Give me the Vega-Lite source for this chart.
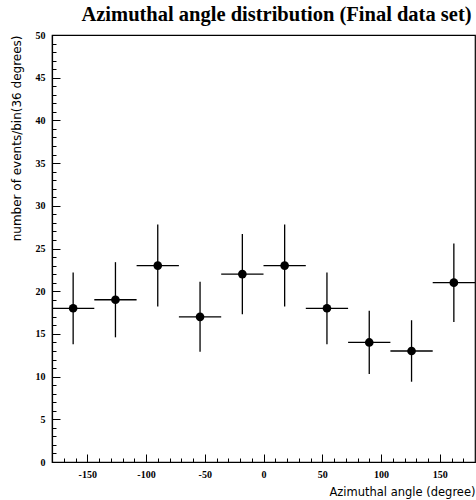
{
  "$schema": "https://vega.github.io/schema/vega-lite/v6.json",
  "autosize": {"type": "none"},
  "padding": {"left": 52, "top": 35, "right": 1, "bottom": 38},
  "width": 423,
  "height": 427,
  "title": {
    "text": "Azimuthal angle distribution (Final data set)",
    "font": "Liberation Serif",
    "fontSize": 20.5,
    "fontWeight": "bold",
    "color": "black",
    "anchor": "middle",
    "offset": 5,
    "dx": 13
  },
  "config": {
    "view": {"stroke": "black", "strokeWidth": 1.2},
    "axis": {
      "domainColor": "black",
      "tickColor": "black",
      "labelColor": "black",
      "titleColor": "black",
      "grid": false,
      "labelOverlap": false,
      "tickCount": 1000
    }
  },
  "data": {
    "values": [
      {"angle": -162, "n": 18, "xlo": -180, "xhi": -144, "lo": 13.8, "hi": 22.2},
      {"angle": -126, "n": 19, "xlo": -144, "xhi": -108, "lo": 14.6, "hi": 23.4},
      {"angle": -90, "n": 23, "xlo": -108, "xhi": -72, "lo": 18.2, "hi": 27.8},
      {"angle": -54, "n": 17, "xlo": -72, "xhi": -36, "lo": 12.9, "hi": 21.1},
      {"angle": -18, "n": 22, "xlo": -36, "xhi": 0, "lo": 17.3, "hi": 26.7},
      {"angle": 18, "n": 23, "xlo": 0, "xhi": 36, "lo": 18.2, "hi": 27.8},
      {"angle": 54, "n": 18, "xlo": 36, "xhi": 72, "lo": 13.8, "hi": 22.2},
      {"angle": 90, "n": 14, "xlo": 72, "xhi": 108, "lo": 10.3, "hi": 17.7},
      {"angle": 126, "n": 13, "xlo": 108, "xhi": 144, "lo": 9.4, "hi": 16.6},
      {"angle": 162, "n": 21, "xlo": 144, "xhi": 180, "lo": 16.4, "hi": 25.6}
    ]
  },
  "layer": [
    {
      "mark": {"type": "rule", "color": "black", "strokeWidth": 1.3},
      "encoding": {
        "x": {
          "field": "xlo",
          "type": "quantitative",
          "scale": {"domain": [-180, 180], "nice": false, "zero": false},
          "axis": {
            "title": "Azimuthal angle (degree)",
            "titleFont": "DejaVu Sans",
            "titleFontSize": 11.5,
            "titleFontWeight": "normal",
            "titleAnchor": "end",
            "titleAlign": "right",
            "titlePadding": 3,
            "tickCount": 1000,
            "values": [-170,-160,-150,-140,-130,-120,-110,-100,-90,-80,-70,-60,-50,-40,-30,-20,-10,0,10,20,30,40,50,60,70,80,90,100,110,120,130,140,150,160,170],
            "labelExpr": "datum.value % 50 === 0 ? '' + datum.value : ''",
            "labelFont": "Liberation Serif",
            "labelFontWeight": "bold",
            "labelFontSize": 10,
            "labelPadding": 15,
            "tickSize": {"condition": {"test": "datum.value % 50 === 0", "value": -8}, "value": -4},
            "domainWidth": 1.2
          }
        },
        "x2": {"field": "xhi"},
        "y": {
          "field": "n",
          "type": "quantitative",
          "scale": {"domain": [0, 50], "nice": false},
          "axis": {
            "title": "number of events/bin(36 degrees)",
            "titleFont": "DejaVu Sans",
            "titleFontSize": 12,
            "titleFontWeight": "normal",
            "titleAnchor": "end",
            "titlePadding": 12,
            "tickCount": 1000,
            "values": [0,1,2,3,4,5,6,7,8,9,10,11,12,13,14,15,16,17,18,19,20,21,22,23,24,25,26,27,28,29,30,31,32,33,34,35,36,37,38,39,40,41,42,43,44,45,46,47,48,49,50],
            "labelExpr": "datum.value % 5 === 0 ? '' + datum.value : ''",
            "labelFont": "Liberation Serif",
            "labelFontWeight": "bold",
            "labelFontSize": 10,
            "labelPadding": 15,
            "tickSize": {"condition": {"test": "datum.value % 5 === 0", "value": -8}, "value": -4},
            "domainWidth": 1.2
          }
        }
      }
    },
    {
      "mark": {"type": "rule", "color": "black", "strokeWidth": 1.3},
      "encoding": {
        "x": {"field": "angle", "type": "quantitative"},
        "y": {"field": "lo", "type": "quantitative"},
        "y2": {"field": "hi"}
      }
    },
    {
      "mark": {"type": "point", "filled": true, "color": "black", "opacity": 1, "size": 75},
      "encoding": {
        "x": {"field": "angle", "type": "quantitative"},
        "y": {"field": "n", "type": "quantitative"}
      }
    }
  ]
}
